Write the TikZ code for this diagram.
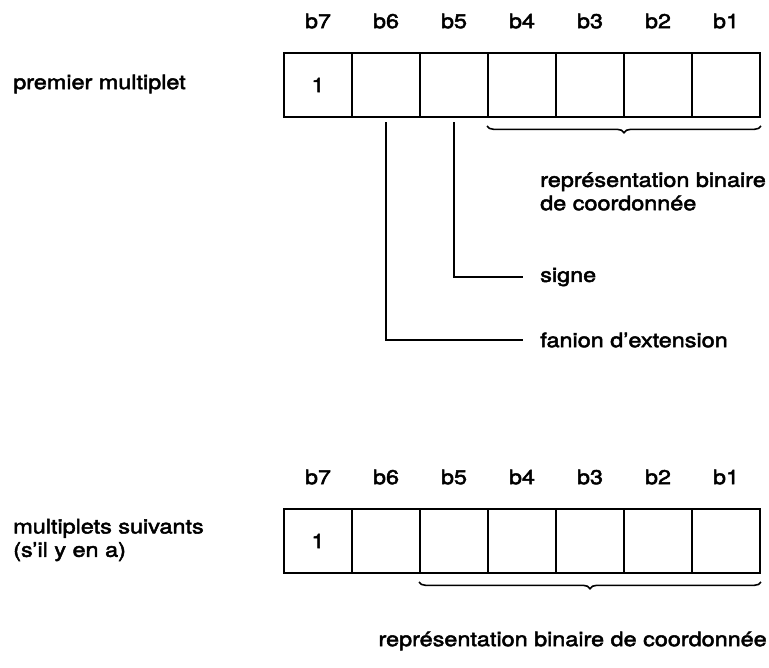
\documentclass[tikz,border=0pt]{standalone}
\usepackage{fontspec}
\setmainfont{TeX Gyre Heros}[FakeStretch=1.17,FakeBold=2.5]
\usetikzlibrary{positioning,decorations.pathreplacing}

\begin{document}
\begin{tikzpicture}[x=0.75pt,y=-0.75pt,
    cell/.style={draw,line width=1.5pt,minimum width=51pt,minimum height=48pt,inner sep=0pt},
    txt/.style={font=\fontsize{15}{17.5}\selectfont,inner sep=0pt},
    lead/.style={line width=1.2pt},
    accolade/.style={line width=1.2pt,decorate,decoration={brace,amplitude=5pt}}]
  \useasboundingbox (0,0) rectangle (769,668);

  % premier multiplet: b7 ... b1
  \foreach \k [evaluate=\k as \b using int(7-\k)] in {0,...,6} {
    \node[cell] (p\b) at (318+68*\k,85) {};
    \node[txt] (pb\b) at (318+68*\k,21) {b\b};
  }
  \node[txt] at (p7) {1};
  \node[txt,anchor=west] (pnom) at (13,84) {premier multiplet};

  % accolade sous b4 ... b1
  \draw[accolade] ([yshift=-6pt]p1.south east) -- ([yshift=-6pt]p4.south west)
    node[midway,coordinate] (pacc) {};
  \node[txt,anchor=north west,align=left] (prep) at (540,172) {représentation binaire\\de coordonnée};

  % signe et fanion
  \node[txt,anchor=west] (signe) at (540,277) {signe};
  \node[txt,anchor=west] (fanion) at (540,340) {fanion d’extension};
  \draw[lead] ([yshift=-3pt]p5.south) |- ([xshift=-13pt]signe.west);
  \draw[lead] ([yshift=-3pt]p6.south) |- ([xshift=-13pt]fanion.west);

  % multiplets suivants
  \foreach \k [evaluate=\k as \b using int(7-\k)] in {0,...,6} {
    \node[cell] (s\b) at (318+68*\k,541) {};
    \node[txt] (sb\b) at (318+68*\k,477) {b\b};
  }
  \node[txt] at (s7) {1};
  \node[txt,anchor=west,align=left] (snom) at (13,540) {multiplets suivants\\(s’il y en a)};

  % accolade sous b5 ... b1
  \draw[accolade] ([yshift=-6pt]s1.south east) -- ([yshift=-6pt]s5.south west)
    node[midway,coordinate] (sacc) {};
  \node[txt,anchor=east] (srep) at (767,641) {représentation binaire de coordonnée};
\end{tikzpicture}
\end{document}
